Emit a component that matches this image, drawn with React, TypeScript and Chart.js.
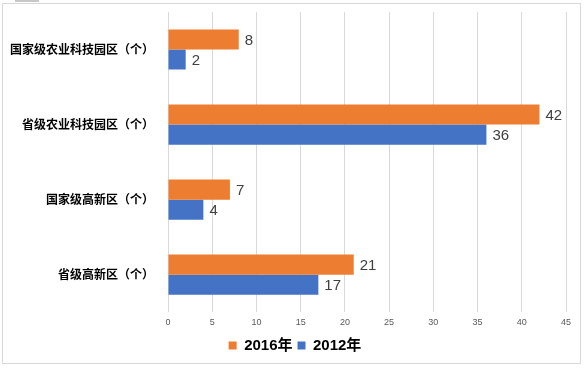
import React, { useEffect, useRef } from "react";
import { Chart, registerables } from "chart.js";

Chart.register(...registerables);

const categories = [
  "国家级农业科技园区（个）",
  "省级农业科技园区（个）",
  "国家级高新区（个）",
  "省级高新区（个）",
];
const values2016 = [8, 42, 7, 21];
const values2012 = [2, 36, 4, 17];
const seriesNames = ["2016年", "2012年"];
const xTicks = [0, 5, 10, 15, 20, 25, 30, 35, 40, 45];

const ORANGE = "#ED7D31";
const BLUE = "#4472C4";

const framePlugin = {
  id: "frame",
  afterLayout(chart: any) {
    const l = chart.legend;
    if (l) {
      l.left += 12;
      l.right += 12;
    }
  },
  beforeDraw(chart: any) {
    const ctx = chart.ctx;
    ctx.save();
    ctx.fillStyle = "#ffffff";
    ctx.fillRect(0, 0, chart.width, chart.height);
    ctx.strokeStyle = "#D9D9D9";
    ctx.lineWidth = 1;
    ctx.strokeRect(2.5, 3.5, 578, 360);
    ctx.fillStyle = "#C8C8C8";
    ctx.fillRect(15, 0, 24, 2);
    ctx.restore();
  },
};

const valueLabelPlugin = {
  id: "valueLabels",
  afterDatasetsDraw(chart: any) {
    const ctx = chart.ctx;
    ctx.save();
    ctx.font = "15px 'Liberation Sans', sans-serif";
    ctx.fillStyle = "#404040";
    ctx.textAlign = "left";
    ctx.textBaseline = "middle";
    chart.data.datasets.forEach((ds: any, i: number) => {
      const meta = chart.getDatasetMeta(i);
      meta.data.forEach((bar: any, j: number) => {
        ctx.fillText(String(ds.data[j]), bar.x + 6, bar.y + 1);
      });
    });
    ctx.restore();
  },
};

export default function App() {
  const ref = useRef<HTMLCanvasElement | null>(null);
  useEffect(() => {
    document.body.style.margin = "0";
    const chart = new Chart(ref.current as HTMLCanvasElement, {
      type: "bar",
      data: {
        labels: categories,
        datasets: [
          {
            label: seriesNames[0],
            data: values2016,
            backgroundColor: ORANGE,
            barPercentage: 1,
            categoryPercentage: 0.535,
          },
          {
            label: seriesNames[1],
            data: values2012,
            backgroundColor: BLUE,
            barPercentage: 1,
            categoryPercentage: 0.535,
          },
        ],
      },
      options: {
        indexAxis: "y",
        animation: false,
        responsive: false,
        layout: { padding: { top: 12, right: 18, left: 0, bottom: 5 } },
        scales: {
          x: {
            min: 0,
            max: 45,
            afterBuildTicks: (s: any) => {
              s.ticks = xTicks.map((v) => ({ value: v }));
            },
            grid: { color: "#D9D9D9", drawTicks: false },
            border: { display: false },
            ticks: {
              color: "#595959",
              font: { size: 9, family: "'Liberation Sans', sans-serif" },
              padding: 5,
            },
          },
          y: {
            afterFit: (s: any) => {
              s.width = 168;
              s.paddingTop = 0;
              s.paddingBottom = 0;
            },
            grid: { display: false, drawTicks: false },
            border: { display: false },
            ticks: {
              color: "#000000",
              padding: 14,
              font: {
                size: 12,
                weight: "bold",
                family: "'Noto Sans CJK SC', sans-serif",
              },
            },
          },
        },
        plugins: {
          legend: {
            position: "bottom",
            labels: {
              boxWidth: 8,
              boxHeight: 8,
              padding: 5,
              color: "#000000",
              font: {
                size: 15,
                weight: "bold",
                family: "'Liberation Sans', 'Noto Sans CJK SC', sans-serif",
              },
            },
          },
          tooltip: { enabled: false },
        },
      },
      plugins: [framePlugin, valueLabelPlugin],
    } as any);
    return () => chart.destroy();
  }, []);
  return (
    <div style={{ width: 584, height: 368 }}>
      <canvas ref={ref} width={584} height={368} style={{ display: "block" }} />
    </div>
  );
}
